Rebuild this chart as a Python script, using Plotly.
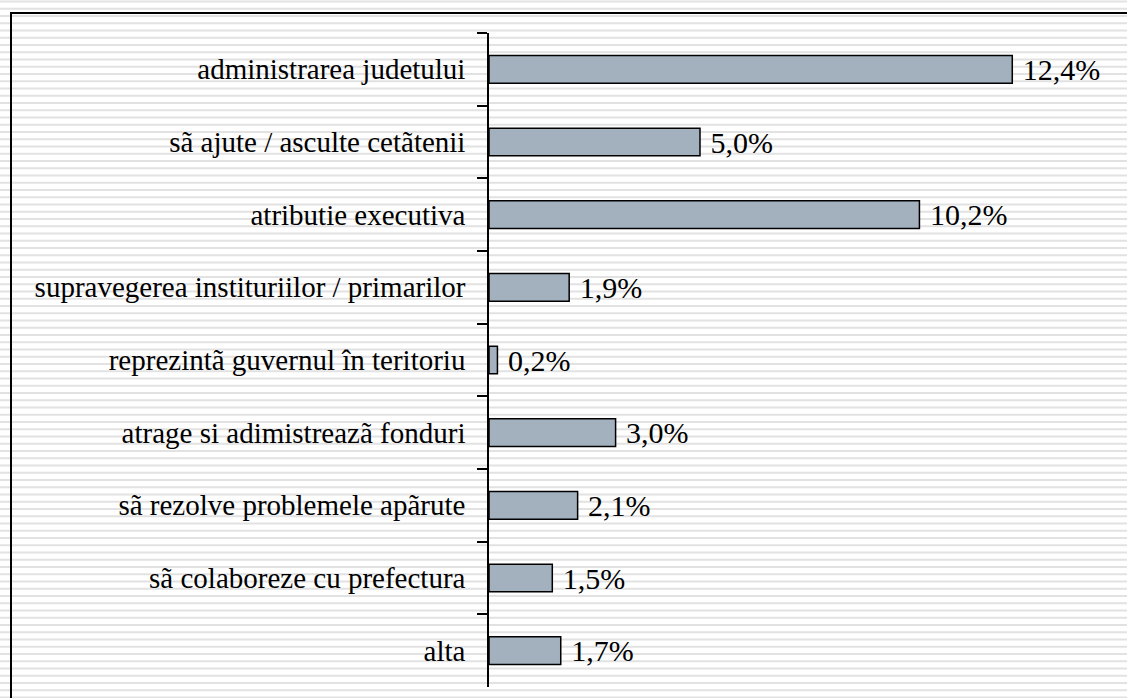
import plotly.graph_objects as go

categories = [
    "administrarea judetului",
    "sã ajute / asculte cetãtenii",
    "atributie executiva",
    "supravegerea instituriilor / primarilor",
    "reprezintã guvernul în teritoriu",
    "atrage si adimistreazã fonduri",
    "sã rezolve problemele apãrute",
    "sã colaboreze cu prefectura",
    "alta",
]
values = [12.4, 5.0, 10.2, 1.9, 0.2, 3.0, 2.1, 1.5, 1.7]
labels = ["\u00a0" + f"{v:.1f}%".replace(".", ",") for v in values]

FONT = "'Liberation Serif', 'Times New Roman', Times, serif"

W, H = 1127, 698
L, R, T, B = 489, 0, 33, 11
pw, ph = W - L - R, H - T - B

def px_x(x):
    return (x - L) / pw

def px_y(y):
    return (H - B - y) / ph

fig = go.Figure()
fig.add_trace(go.Bar(
    y=categories, x=values, orientation="h",
    marker=dict(color="#a3b1bf", line=dict(color="black", width=1.5)),
    width=0.38,
    text=labels, textposition="outside", constraintext="none",
    textfont=dict(family=FONT, size=30, color="black"),
    cliponaxis=False,
))

shapes = []
y = 1.5
while y < H + 2:
    shapes.append(dict(type="line", xref="paper", yref="paper",
                       x0=px_x(0), x1=px_x(W), y0=px_y(y), y1=px_y(y),
                       line=dict(color="#e2e2e2", width=2), layer="below"))
    y += 7.25
shapes.append(dict(type="rect", xref="paper", yref="paper",
                   x0=px_x(11), x1=px_x(W + 5), y0=px_y(13), y1=px_y(H + 5),
                   line=dict(color="black", width=2), layer="below"))

fig.update_layout(
    width=W, height=H,
    margin=dict(l=L, r=R, t=T, b=B, pad=0),
    paper_bgcolor="white", plot_bgcolor="rgba(0,0,0,0)",
    showlegend=False,
    shapes=shapes,
    font=dict(family=FONT, size=29, color="black"),
    xaxis=dict(visible=False, range=[0, pw / 42.2], fixedrange=True),
    yaxis=dict(
        categoryorder="array", categoryarray=categories,
        autorange=False, range=[len(categories) - 0.5, -0.5],
        showline=True, linecolor="black", linewidth=1.5,
        ticks="outside", tickson="boundaries", ticklen=10, tickwidth=1.5,
        tickcolor="black", showgrid=False, zeroline=False,
        ticklabelstandoff=16,
        tickfont=dict(family=FONT, size=29, color="black"),
    ),
)

fig.write_html(
    "out.html",
    config={"displayModeBar": False},
    post_script="document.body.style.margin='0';document.body.style.padding='0';",
)
